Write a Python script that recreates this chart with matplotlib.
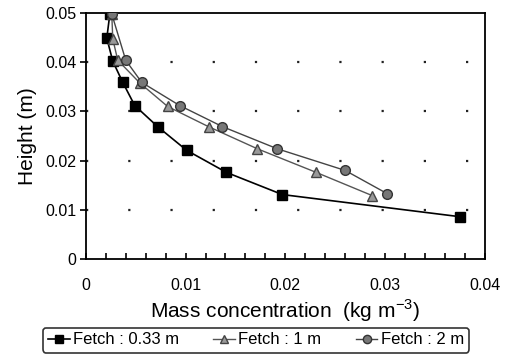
import matplotlib
matplotlib.use("Agg")
import matplotlib.pyplot as plt
from matplotlib.ticker import MultipleLocator

plt.rcParams['font.family'] = ['Liberation Sans', 'DejaVu Sans']

# Data
h_033 = [0.0497, 0.0449, 0.0402, 0.0359, 0.0312, 0.0269, 0.0221, 0.0176, 0.0131, 0.0086]
c_033 = [0.0024, 0.0021, 0.0027, 0.0037, 0.0049, 0.0072, 0.0101, 0.0141, 0.0197, 0.0375]

h_1 = [0.0497, 0.0447, 0.0404, 0.0358, 0.0310, 0.0269, 0.0224, 0.0176, 0.0129]
c_1 = [0.0026, 0.0027, 0.0032, 0.0054, 0.0082, 0.0123, 0.0172, 0.0231, 0.0287]

h_2 = [0.0498, 0.0404, 0.0359, 0.0312, 0.0269, 0.0224, 0.0180, 0.0133]
c_2 = [0.0026, 0.0040, 0.0056, 0.0094, 0.0137, 0.0192, 0.0260, 0.0302]

labels = ['Fetch : 0.33 m', 'Fetch : 1 m', 'Fetch : 2 m']
xtick_vals = [0, 0.01, 0.02, 0.03, 0.04]
xtick_labels = ['0', '0.01', '0.02', '0.03', '0.04']
ytick_vals = [0, 0.01, 0.02, 0.03, 0.04, 0.05]
ytick_labels = ['0', '0.01', '0.02', '0.03', '0.04', '0.05']

fig = plt.figure(figsize=(5.05, 3.61), dpi=100)
ax = fig.add_axes([0.170, 0.2825, 0.790, 0.6815])

l1, = ax.plot(c_033, h_033, color='black', lw=1.2, marker='s', ms=7,
              mfc='black', mec='black', zorder=3)
l2, = ax.plot(c_1, h_1, color='#555555', lw=1.0, marker='^', ms=7,
              mfc='#999999', mec='#444444', zorder=4)
l3, = ax.plot(c_2, h_2, color='#444444', lw=1.0, marker='o', ms=7,
              mfc='#777777', mec='#333333', zorder=5)

ax.set_xlim(0, 0.04)
ax.set_ylim(0, 0.05)
ax.set_xticks(xtick_vals)
ax.set_xticklabels(xtick_labels)
ax.set_yticks(ytick_vals)
ax.set_yticklabels(ytick_labels)
ax.xaxis.set_minor_locator(MultipleLocator(0.002))
ax.tick_params(axis='x', which='both', direction='in', length=4, width=1.2,
               pad=14, labelsize=11.5)
ax.tick_params(axis='y', direction='out', length=4, width=1.2, pad=3, labelsize=11.5)

for y in [0.01, 0.02, 0.03, 0.04]:
    ax.axhline(y, color='#222222', lw=1.6, ls=(0, (1, 18)), zorder=1)

for s in ax.spines.values():
    s.set_linewidth(1.3)

ax.set_xlabel('Mass concentration  (kg m$^{\\mathregular{-3}}$)', fontsize=15, labelpad=3)
ax.set_ylabel('Height (m)', fontsize=15, labelpad=6)

leg = fig.legend([l1, l2, l3], labels, loc='center', ncol=3,
                 bbox_to_anchor=(43 / 505, 1 - 356 / 361, 426 / 505, 32 / 361),
                 mode='expand', fontsize=12,
                 frameon=True, fancybox=True, handlelength=1.3,
                 handletextpad=0.2, columnspacing=0.8, borderpad=0.3,
                 borderaxespad=0, markerscale=0.85)
leg.get_frame().set_edgecolor('black')
leg.get_frame().set_linewidth(1.2)

fig.savefig('out.png', dpi=100)
